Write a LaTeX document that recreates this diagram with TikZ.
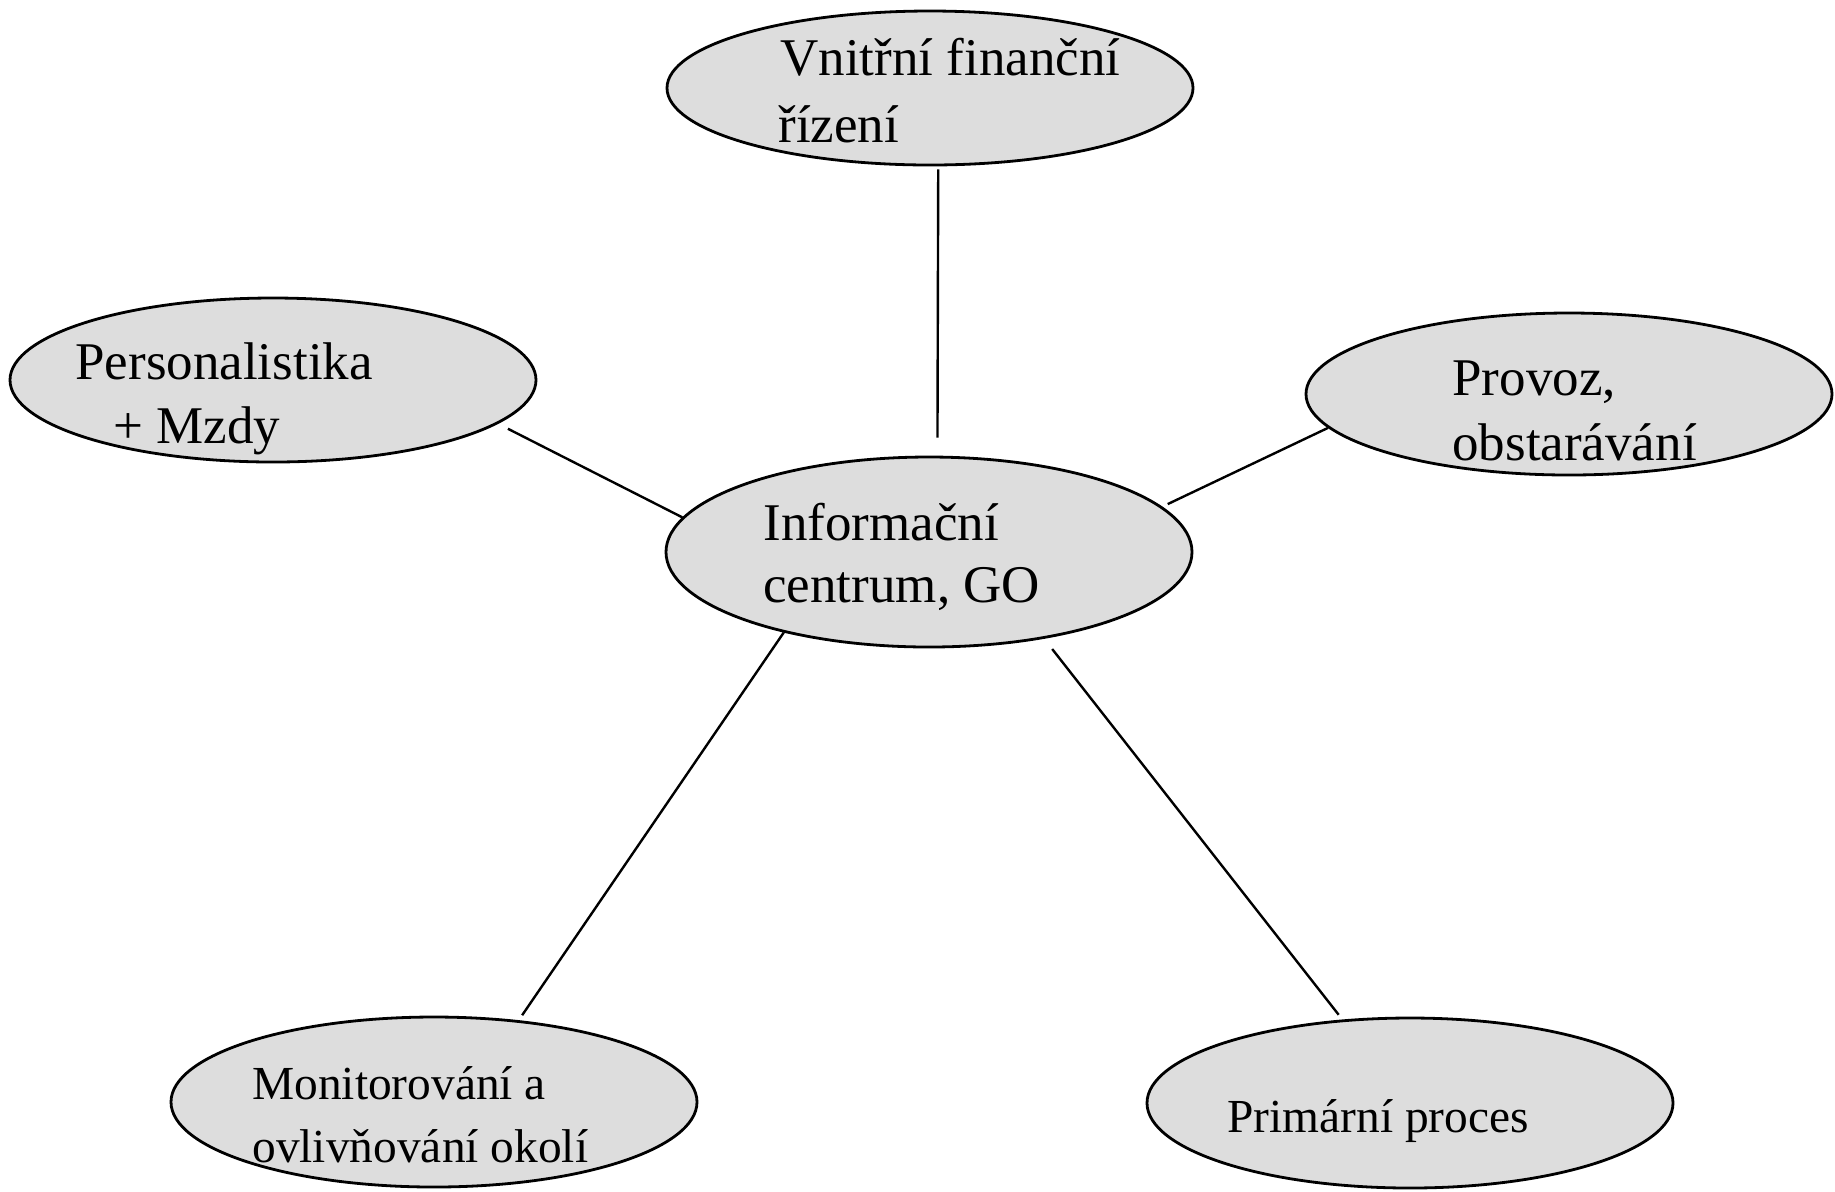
\documentclass[tikz,border=0pt]{standalone}
\usepackage{fontspec}
\setmainfont{Liberation Serif}
\usetikzlibrary{shapes.geometric}
\definecolor{bubblefill}{RGB}{221,221,221}
\begin{document}
\begin{tikzpicture}[x=0.5pt,y=-0.5pt,
  bubble/.style={ellipse,draw=black,line width=1.4pt,fill=bubblefill,
                 inner sep=0pt,minimum width=263pt},
  link/.style={line width=1.2pt},
  bigtext/.style={anchor=base west,inner sep=0pt,font=\fontsize{26.5}{32}\selectfont},
  smalltext/.style={anchor=base west,inner sep=0pt,font=\fontsize{23.7}{30}\selectfont}]
\useasboundingbox (0,0) rectangle (1835,1191);

% the six areas
\node[bubble,minimum height=77pt] (fin)  at (930,88)    {};
\node[bubble,minimum height=82pt] (pers) at (273,380)   {};
\node[bubble,minimum height=81pt] (prov) at (1569,394)  {};
\node[bubble,minimum height=95pt] (info) at (929,552)   {};
\node[bubble,minimum height=85pt] (mon)  at (434,1102)  {};
\node[bubble,minimum height=85pt] (prim) at (1410,1103) {};

% links to the centre
\draw[link,shorten <=1.5pt,shorten >=9pt] (fin.-84.3) -- (info.85.45);
\draw[link,shorten <=5.5pt] (pers.-11.6) -- (info.172.2);
\draw[link,shorten <=3pt] (info.11.88) -- (prov.188.6);
\draw[link,shorten >=3pt] (info.-151.65) -- (mon.44);
\draw[link,shorten <=6.5pt,shorten >=3pt] (info.-37.2) -- (prim.129.6);

% labels
\node[bigtext] (fin1)  at (780,75)   {Vnitřní finanční};
\node[bigtext] (fin2)  at (778,142)  {řízení};
\node[bigtext] (pers1) at (75,379)   {Personalistika};
\node[bigtext] (pers2) at (113,443)  {+ Mzdy};
\node[bigtext] (prov1) at (1452,395) {Provoz,};
\node[bigtext] (prov2) at (1452,460) {obstarávání};
\node[bigtext] (info1) at (763,540)  {Informační};
\node[bigtext] (info2) at (763,602)  {centrum, GO};
\node[smalltext] (mon1) at (252,1099) {Monitorování a};
\node[smalltext] (mon2) at (252,1162) {ovlivňování okolí};
\node[smalltext] (prim1) at (1227,1132) {Primární proces};
\end{tikzpicture}
\end{document}
